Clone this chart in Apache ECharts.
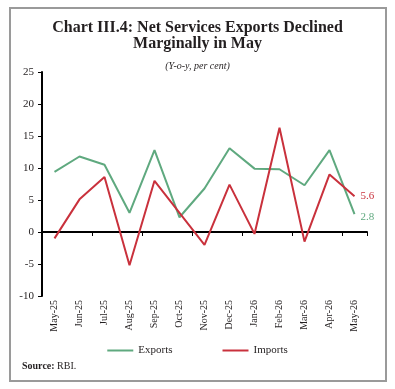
<!DOCTYPE html>
<html>
<head>
<meta charset="utf-8">
<script src="https://cdn.jsdelivr.net/npm/echarts@6/dist/echarts.min.js"></script>
<style>
  html, body { margin: 0; padding: 0; background: #fff; }
  #chart { width: 395px; height: 389px; }
</style>
</head>
<body>
<div id="chart"></div>
<script>
// months on the x axis
var months = ['May-25', 'Jun-25', 'Jul-25', 'Aug-25', 'Sep-25', 'Oct-25', 'Nov-25',
              'Dec-25', 'Jan-26', 'Feb-26', 'Mar-26', 'Apr-26', 'May-26'];
// y-o-y growth, per cent
var exportsVals = [9.4, 11.8, 10.5, 3.0, 12.8, 2.3, 6.8, 13.1, 9.9, 9.8, 7.3, 12.8, 2.8];
var importsVals = [-1.0, 5.1, 8.6, -5.2, 8.0, 3.0, -2.0, 7.4, -0.3, 16.3, -1.5, 9.0, 5.6];

var green = '#5fa97f';
var red = '#c9313c';
var serif = '"Liberation Serif", "DejaVu Serif", serif';

var chart = echarts.init(document.getElementById('chart'));

// value label at the end of each line
function lastLabel(color, dy) {
    return {
        show: true,
        distance: 6,
        offset: [0, dy],
        color: color,
        fontFamily: serif,
        fontSize: 11,
        formatter: function (p) {
            return Number(p.value).toFixed(1);
        }
    };
}

var option = {
    animation: false,
    backgroundColor: '#fff',
    textStyle: { fontFamily: serif },
    title: [
        {
            text: 'Chart III.4: Net Services Exports Declined\nMarginally in May',
            left: 'center',
            top: 15,
            textStyle: { fontFamily: serif, fontSize: 16, fontWeight: 'bold', color: '#231f20', lineHeight: 16 }
        },
        {
            text: '(Y-o-y, per cent)',
            left: 'center',
            top: 56,
            textStyle: { fontFamily: serif, fontSize: 10, fontStyle: 'italic', fontWeight: 'normal', color: '#231f20' }
        }
    ],
    graphic: [
        {
            type: 'rect',
            shape: { x: 10, y: 8, width: 376, height: 373 },
            style: { fill: 'none', stroke: '#9a9a9a', lineWidth: 2 },
            silent: true
        },
        {
            type: 'text',
            left: 22,
            top: 361,
            style: {
                text: '{b|Source:} RBI.',
                rich: { b: { fontWeight: 'bold', fontFamily: serif, fontSize: 10, fill: '#231f20' } },
                fontFamily: serif,
                fontSize: 10,
                fill: '#231f20'
            }
        }
    ],
    legend: {
        bottom: 28,
        left: 'center',
        itemGap: 50,
        itemWidth: 26,
        itemHeight: 2,
        icon: 'rect',
        textStyle: { fontFamily: serif, fontSize: 11, color: '#231f20' },
        data: ['Exports', 'Imports']
    },
    grid: { left: 42, right: 28, top: 72, bottom: 93 },
    xAxis: [
        {
            type: 'category',
            data: months,
            boundaryGap: true,
            axisLine: { onZero: true, lineStyle: { color: '#000', width: 2 } },
            axisTick: { show: true, inside: false, length: 4, lineStyle: { color: '#000', width: 1 } },
            axisLabel: { show: false }
        },
        {
            type: 'category',
            data: months,
            position: 'bottom',
            boundaryGap: true,
            axisLine: { show: false, onZero: false },
            axisTick: { show: false },
            axisLabel: {
                rotate: 90,
                interval: 0,
                margin: 4,
                fontFamily: serif,
                fontSize: 10,
                color: '#231f20'
            }
        }
    ],
    yAxis: {
        type: 'value',
        min: -10,
        max: 25,
        interval: 5,
        splitLine: { show: false },
        axisLine: { show: true, lineStyle: { color: '#000', width: 2 } },
        axisTick: { show: true, length: 4, lineStyle: { color: '#000', width: 1 } },
        axisLabel: { fontFamily: serif, fontSize: 11, color: '#231f20', margin: 8 }
    },
    series: [
        {
            name: 'Exports',
            type: 'line',
            data: exportsVals,
            symbol: 'none',
            color: green,
            lineStyle: { color: green, width: 2 },
            endLabel: lastLabel(green, 3),
            z: 3
        },
        {
            name: 'Imports',
            type: 'line',
            data: importsVals,
            symbol: 'none',
            color: red,
            lineStyle: { color: red, width: 2 },
            endLabel: lastLabel(red, 0),
            z: 4
        }
    ]
};

chart.setOption(option);
</script>
</body>
</html>
